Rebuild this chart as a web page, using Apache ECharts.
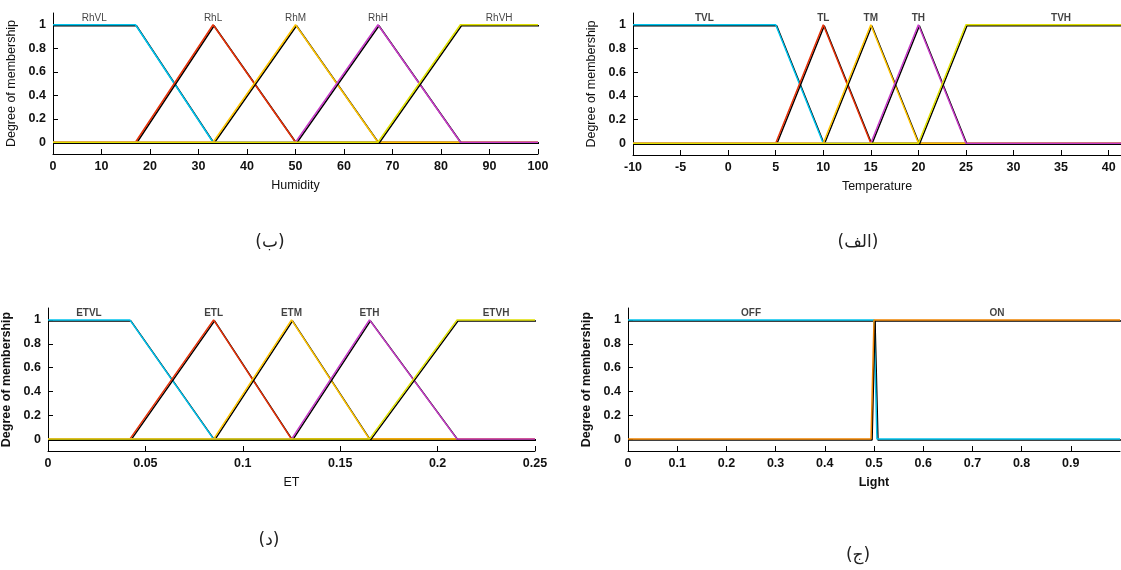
<!DOCTYPE html>
<html>
<head>
<meta charset="utf-8">
<script src="https://cdn.jsdelivr.net/npm/echarts@6/dist/echarts.min.js"></script>
<style>
html, body { margin: 0; padding: 0; background: #fff; }
#chart { width: 1121px; height: 570px; }
</style>
</head>
<body>
<div id="chart"></div>
<script>
// membership functions as trapezoids [a, b, c, d] (triangle when b == c)
var humRange = [0, 100];
var humNames = ['RhVL', 'RhL', 'RhM', 'RhH', 'RhVH'];
var humMF = [[0, 0, 17, 33], [17, 33, 33, 50], [33, 50, 50, 67], [50, 67, 67, 84], [67, 84, 100, 100]];
var humTicks = [0, 10, 20, 30, 40, 50, 60, 70, 80, 90, 100];

var tempRange = [-10, 45];
var tempNames = ['TVL', 'TL', 'TM', 'TH', 'TVH'];
var tempMF = [[-10, -10, 5, 10], [5, 10, 10, 15], [10, 15, 15, 20], [15, 20, 20, 25], [20, 25, 45, 45]];
var tempTicks = [-10, -5, 0, 5, 10, 15, 20, 25, 30, 35, 40];

var etRange = [0, 0.25];
var etNames = ['ETVL', 'ETL', 'ETM', 'ETH', 'ETVH'];
var etMF = [[0, 0, 0.042, 0.085], [0.042, 0.085, 0.085, 0.125], [0.085, 0.125, 0.125, 0.165], [0.125, 0.165, 0.165, 0.21], [0.165, 0.21, 0.25, 0.25]];
var etTicks = [0, 0.05, 0.1, 0.15, 0.2, 0.25];

var lightRange = [0, 1];
var lightNames = ['OFF', 'ON'];
var lightMF = [[0, 0, 0.5, 0.506], [0.494, 0.5, 1, 1]];
var lightTicks = [0, 0.1, 0.2, 0.3, 0.4, 0.5, 0.6, 0.7, 0.8, 0.9];

var degreeTicks = [0, 0.2, 0.4, 0.6, 0.8, 1];

var fiveColors = ['#00c4ee', '#e83208', '#ffc400', '#c83cc8', '#e0e000'];
var twoColors = ['#00c4ee', '#f08400'];

function mu(p, x) {
  if (x < p[0] || x > p[3]) return 0;
  if (x >= p[1] && x <= p[2]) return 1;
  if (x < p[1]) return (x - p[0]) / (p[1] - p[0]);
  return (p[3] - x) / (p[3] - p[2]);
}

function mfPoints(p, range) {
  var xs = [range[0], p[0], p[1], p[2], p[3], range[1]].filter(function (x) {
    return x >= range[0] && x <= range[1];
  });
  xs.sort(function (a, b) { return a - b; });
  var pts = [];
  xs.forEach(function (x) {
    if (!pts.length || pts[pts.length - 1][0] !== x) pts.push([x, mu(p, x)]);
  });
  return pts;
}

var grids = [
  { left: 53, right: 583, top: 13, bottom: 416 },
  { left: 633, right: 0, top: 13, bottom: 415 },
  { left: 48, right: 586, top: 308, bottom: 119 },
  { left: 628, right: 1, top: 308, bottom: 119 }
];

var panels = [
  { names: humNames, mf: humMF, range: humRange, ticks: humTicks, xmax: 100, colors: fiveColors, title: 'Humidity', bold: false },
  { names: tempNames, mf: tempMF, range: tempRange, ticks: tempTicks, xmax: 41.3, colors: fiveColors, title: 'Temperature', bold: false },
  { names: etNames, mf: etMF, range: etRange, ticks: etTicks, xmax: 0.25, colors: fiveColors, title: 'ET', bold: false },
  { names: lightNames, mf: lightMF, range: lightRange, ticks: lightTicks, xmax: 1, colors: twoColors, title: 'Light', bold: true }
];

var font = 'Liberation Sans, Arial, sans-serif';
var xAxes = [], yAxes = [], series = [];

panels.forEach(function (pn, i) {
  xAxes.push({
    type: 'value', gridIndex: i, min: pn.range[0], max: pn.xmax,
    name: pn.title, nameLocation: 'middle', nameGap: 25,
    nameTextStyle: { fontFamily: font, fontSize: 12.5, color: '#111', fontWeight: pn.bold ? 'bold' : 'normal' },
    splitLine: { show: false },
    axisLine: { onZero: false, lineStyle: { color: '#000', width: 1 } },
    axisTick: { inside: true, length: 5, customValues: pn.ticks, lineStyle: { color: '#000' } },
    axisLabel: {
      customValues: pn.ticks, margin: 6, fontFamily: font, fontSize: 12.5, fontWeight: 'bold', color: '#111',
      formatter: function (v) { return String(+v.toFixed(3)); }
    }
  });
  yAxes.push({
    type: 'value', gridIndex: i, min: -0.1, max: 1.1,
    name: 'Degree of membership', nameLocation: 'middle', nameGap: 35,
    nameTextStyle: { fontFamily: font, fontSize: i >= 2 ? 12.5 : 12.5, color: '#111', fontWeight: i >= 2 ? 'bold' : 'normal' },
    splitLine: { show: false },
    axisLine: { show: true, onZero: false, lineStyle: { color: '#000', width: 1 } },
    axisTick: { inside: true, length: 5, customValues: degreeTicks, lineStyle: { color: '#000' } },
    axisLabel: {
      customValues: degreeTicks, margin: 7, fontFamily: font, fontSize: 12.5, fontWeight: 'bold', color: '#111',
      formatter: function (v) { return String(+v.toFixed(2)); }
    }
  });

  pn.mf.forEach(function (p, k) {
    series.push({
      type: 'line', xAxisIndex: i, yAxisIndex: i,
      data: mfPoints(p, pn.range),
      showSymbol: false, symbol: 'none', silent: true, animation: false, clip: true,
      lineStyle: {
        color: pn.colors[k], width: 1.5,
        shadowColor: '#000', shadowBlur: 0, shadowOffsetX: 1, shadowOffsetY: 1
      }
    });
  });

  // mf name above the top of each curve
  series.push({
    type: 'scatter', xAxisIndex: i, yAxisIndex: i, symbolSize: 0, silent: true, animation: false, z: 5,
    data: pn.mf.map(function (p, k) {
      var lo = Math.max(p[1], pn.range[0]), hi = Math.min(p[2], pn.range[1]);
      return { name: pn.names[k], value: [(lo + hi) / 2, 1] };
    }),
    label: {
      show: true, position: 'top', distance: 2, formatter: '{b}',
      fontFamily: font, fontSize: 10, color: '#111', fontWeight: i === 0 ? 'normal' : 'bold'
    }
  });
});

var captions = [
  { text: '(ب)', x: 270, y: 243 },
  { text: '(الف)', x: 858, y: 243 },
  { text: '(د)', x: 269, y: 541 },
  { text: '(ج)', x: 858, y: 556 }
];

var chart = echarts.init(document.getElementById('chart'), null, { renderer: 'canvas' });
chart.setOption({
  backgroundColor: '#fff',
  animation: false,
  grid: grids.map(function (g) {
    return { left: g.left, right: g.right, top: g.top, bottom: g.bottom, containLabel: false, outerBoundsMode: 'none' };
  }),
  xAxis: xAxes,
  yAxis: yAxes,
  series: series,
  graphic: captions.map(function (c) {
    return {
      type: 'text', x: c.x, y: c.y,
      style: { text: c.text, align: 'center', verticalAlign: 'middle', font: '17px "DejaVu Sans", sans-serif', fill: '#222' }
    };
  })
});
</script>
</body>
</html>
